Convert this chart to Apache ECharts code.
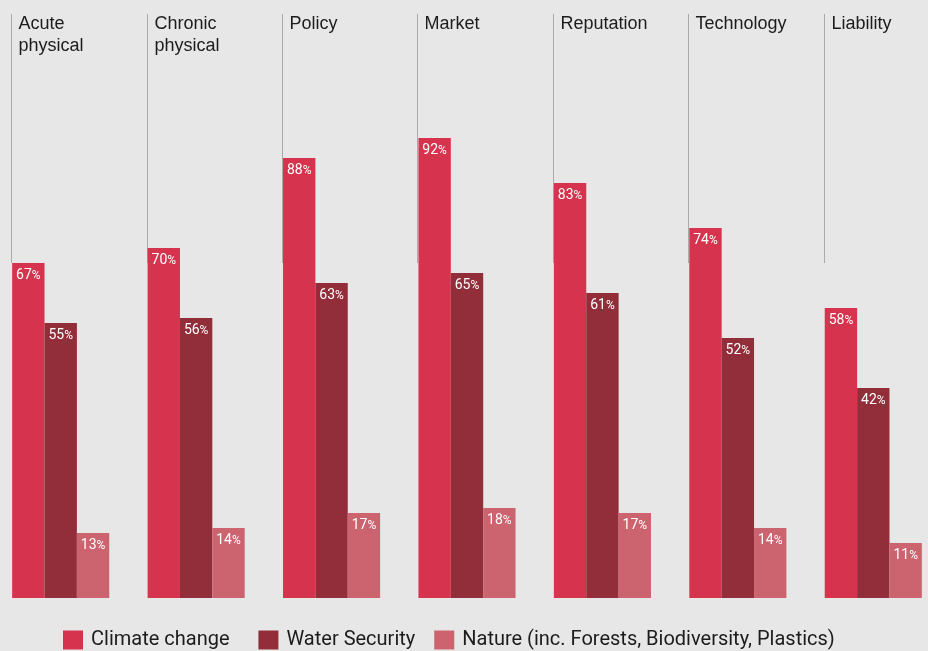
<!DOCTYPE html>
<html>
<head>
<meta charset="utf-8">
<style>
  html, body { margin: 0; padding: 0; background: #e6e7e6; overflow: hidden; }
  /* canvas is a little wider than the page so the first group sits near the left edge */
  #chart { width: 948px; height: 651px; margin-left: -7px; }
</style>
<script src="https://cdn.jsdelivr.net/npm/echarts@6/dist/echarts.min.js"></script>
</head>
<body>
<div id="chart"></div>
<script>
// Risk categories (two-line labels are split with \n)
const categories = ['Acute\nphysical', 'Chronic\nphysical', 'Policy', 'Market', 'Reputation', 'Technology', 'Liability'];

// Share of responses per risk type (%)
const climateChange = [67, 70, 88, 92, 83, 74, 58];
const waterSecurity = [55, 56, 63, 65, 61, 52, 42];
const nature = [13, 14, 17, 18, 17, 14, 11];

const seriesNames = ['Climate change', 'Water Security', 'Nature (inc. Forests, Biodiversity, Plastics)'];
const seriesColors = ['#d6344e', '#922d3a', '#cc6470'];

// Divider lines run from this value down to LINE_BOTTOM on the value scale
const LINE_TOP = 117;
const LINE_BOTTOM = 67;
const CATEGORY_GAP = 0.283;

const chart = echarts.init(document.getElementById('chart'), null, { renderer: 'canvas' });

const valueLabel = {
  show: true,
  position: 'insideTop',
  distance: 5,
  formatter: p => '{v|' + p.value + '}{p|%}',
  rich: {
    v: { color: '#ffffff', fontFamily: 'Roboto', fontSize: 14 },
    p: { color: '#ffffff', fontFamily: 'Roboto', fontSize: 12, padding: [1, 0, 0, 0] }
  }
};

function barSeries(name, data, color) {
  return {
    name: name,
    type: 'bar',
    data: data,
    barGap: '0%',
    barCategoryGap: (CATEGORY_GAP * 100) + '%',
    itemStyle: { color: color },
    label: valueLabel,
    z: 3,
    emphasis: { disabled: true }
  };
}

const option = {
  backgroundColor: '#e6e7e6',
  animation: false,
  grid: { left: 0, right: 0, top: 13, bottom: 53 },
  xAxis: {
    type: 'category',
    data: categories,
    axisLine: { show: false },
    axisTick: { show: false },
    axisLabel: { show: false }
  },
  yAxis: {
    type: 'value',
    min: 0,
    max: LINE_TOP,
    show: false,
    splitLine: { show: false }
  },
  legend: {
    data: seriesNames,
    left: 65,
    top: 625,
    itemWidth: 20,
    itemHeight: 19,
    itemGap: 19,
    icon: 'rect',
    // the first entry gets a little extra room after it
    formatter: name => name === seriesNames[0] ? name + '\u00a0\u00a0' : name,
    textStyle: { fontFamily: 'Roboto', fontSize: 20, color: '#1c1c1c', padding: [0, 0, 0, 3] }
  },
  series: [
    {
      type: 'custom',
      z: 1,
      silent: true,
      data: categories.map((c, i) => [i, LINE_TOP]),
      renderItem: function (params, api) {
        const idx = api.value(0);
        const topPt = api.coord([idx, LINE_TOP]);
        const botPt = api.coord([idx, LINE_BOTTOM]);
        const band = api.size([1, 0])[0];
        const x = Math.round(topPt[0] - band * (1 - CATEGORY_GAP) / 2) - 0.5;
        return {
          type: 'group',
          children: [
            {
              type: 'line',
              shape: { x1: x, y1: topPt[1] + 1, x2: x, y2: botPt[1] },
              style: { stroke: '#a9aaa9', lineWidth: 1 }
            },
            {
              type: 'text',
              x: x + 7,
              y: topPt[1],
              style: {
                text: categories[idx],
                fill: '#1c1c1c',
                font: '18px "Liberation Sans", Arial, sans-serif',
                lineHeight: 22,
                align: 'left',
                verticalAlign: 'top'
              }
            }
          ]
        };
      }
    },
    barSeries(seriesNames[0], climateChange, seriesColors[0]),
    barSeries(seriesNames[1], waterSecurity, seriesColors[1]),
    barSeries(seriesNames[2], nature, seriesColors[2])
  ]
};

chart.setOption(option);
</script>
</body>
</html>
